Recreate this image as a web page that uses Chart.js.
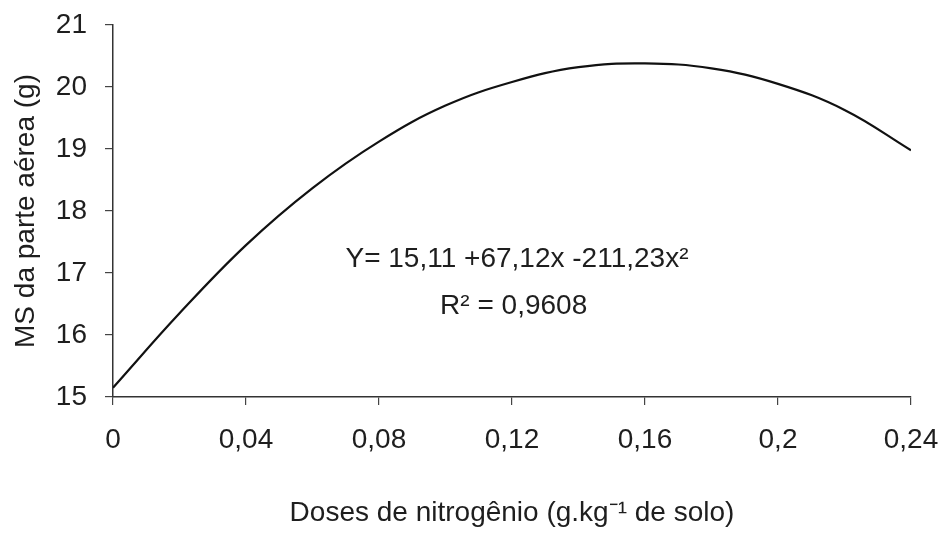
<!DOCTYPE html>
<html>
<head>
<meta charset="utf-8">
<script src="https://cdn.jsdelivr.net/npm/chart.js@4/dist/chart.umd.min.js"></script>
<style>
  html, body { margin: 0; padding: 0; background: #fff; }
  #wrap { width: 943px; height: 535px; }
</style>
</head>
<body>
<div id="wrap"><canvas id="grafico" width="943" height="535"></canvas></div>
<script>
// doses de nitrogenio (g/kg) e MS
const doses = [0, 0.02, 0.04, 0.06, 0.08, 0.10, 0.12, 0.14, 0.16, 0.18, 0.20, 0.22, 0.24];
const msParteAerea = [15.15, 16.35, 17.45, 18.37, 19.12, 19.7, 20.08, 20.32, 20.38, 20.3, 20.05, 19.63, 18.98];
const xTicks = [0, 0.04, 0.08, 0.12, 0.16, 0.20, 0.24];
const xTickLabels = ['0', '0,04', '0,08', '0,12', '0,16', '0,2', '0,24'];
const yTicks = [15, 16, 17, 18, 19, 20, 21];
const equacao = ['Y= 15,11 +67,12x -211,23x²', 'R² = 0,9608'];

const fonte = 'Liberation Sans, Arial, sans-serif';
const corTexto = '#1e1e1e';

const pontos = doses.map((d, i) => ({ x: d, y: msParteAerea[i] }));

const textoEquacao = {
  id: 'textoEquacao',
  afterDraw(chart) {
    const ctx = chart.ctx;
    const xs = chart.scales.x;
    const ys = chart.scales.y;
    ctx.save();
    ctx.font = '28px ' + fonte;
    ctx.fillStyle = corTexto;
    ctx.textAlign = 'center';
    ctx.textBaseline = 'middle';
    ctx.fillText(equacao[0], xs.getPixelForValue(0.1215), ys.getPixelForValue(17.22));
    ctx.fillText(equacao[1], xs.getPixelForValue(0.1205), ys.getPixelForValue(16.47));
    ctx.restore();
  }
};

new Chart(document.getElementById('grafico'), {
  type: 'scatter',
  data: {
    datasets: [{
      label: 'MS',
      data: pontos,
      showLine: true,
      borderColor: '#111',
      borderWidth: 2.2,
      pointRadius: 0,
      tension: 0.4,
      fill: false
    }]
  },
  options: {
    responsive: false,
    animation: false,
    events: [],
    layout: { padding: { top: 25, right: 32, left: 0, bottom: 0 } },
    plugins: { legend: { display: false }, tooltip: { enabled: false } },
    scales: {
      x: {
        type: 'linear',
        min: 0,
        max: 0.24,
        afterBuildTicks: (s) => { s.ticks = xTicks.map(v => ({ value: v })); },
        afterFit: (s) => { s.height = 138; s.paddingLeft = 0; s.paddingRight = 0; },
        grid: { drawOnChartArea: false, drawTicks: true, tickLength: 8, color: '#444', lineWidth: 1.2 },
        border: { display: true, color: '#333', width: 1.5 },
        ticks: {
          padding: 18,
          color: corTexto,
          font: { family: fonte, size: 28 },
          maxRotation: 0,
          callback: (v, i) => xTickLabels[i]
        },
        title: {
          display: true,
          text: 'Doses de nitrogênio (g.kg⁻¹ de solo)',
          color: corTexto,
          font: { family: fonte, size: 28 },
          padding: { top: 0, bottom: 5 }
        }
      },
      y: {
        min: 15,
        max: 21,
        afterBuildTicks: (s) => { s.ticks = yTicks.map(v => ({ value: v })); },
        afterFit: (s) => { s.width = 113; s.paddingTop = 0; s.paddingBottom = 0; },
        grid: { drawOnChartArea: false, drawTicks: true, tickLength: 8, color: '#444', lineWidth: 1.2 },
        border: { display: true, color: '#333', width: 1.5 },
        ticks: {
          padding: 18,
          color: corTexto,
          font: { family: fonte, size: 28 },
          callback: (v) => String(v)
        },
        title: {
          display: true,
          text: 'MS da parte aérea (g)',
          color: corTexto,
          font: { family: fonte, size: 28 },
          padding: { top: 9, bottom: 0 }
        }
      }
    }
  },
  plugins: [textoEquacao]
});
</script>
</body>
</html>
